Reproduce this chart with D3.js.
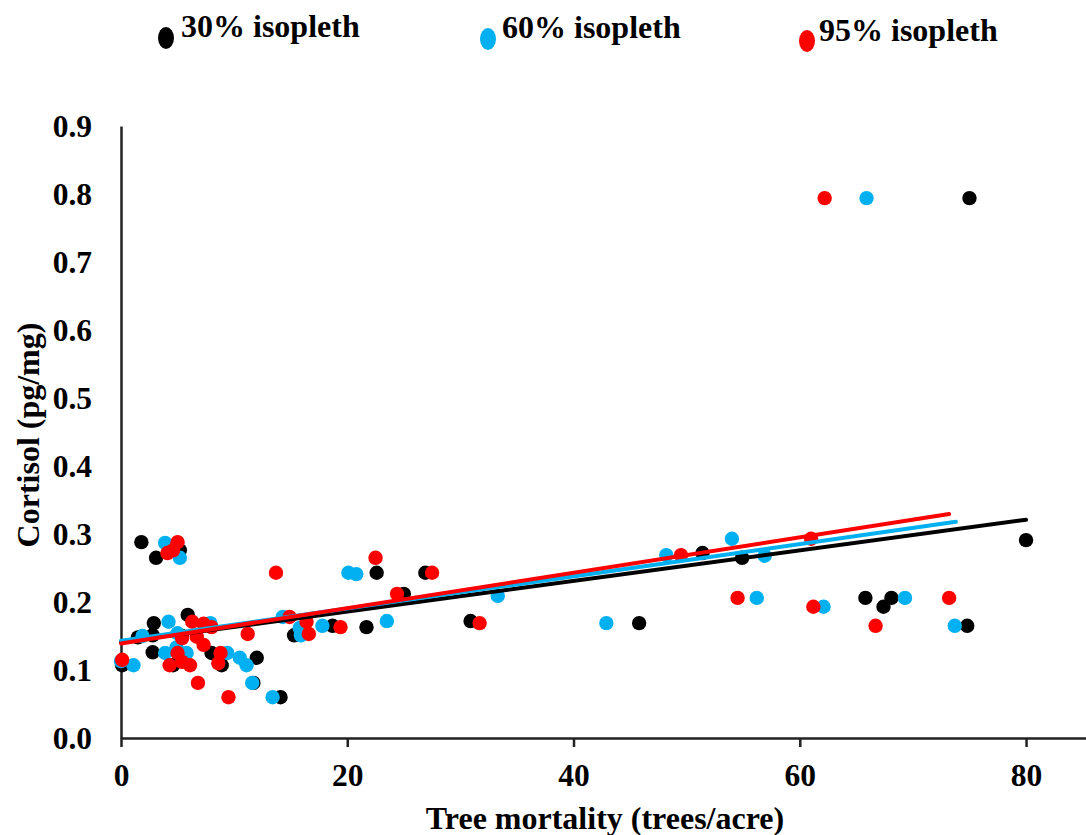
<!DOCTYPE html>
<html>
<head>
<meta charset="utf-8">
<script src="https://cdn.jsdelivr.net/npm/d3@7"></script>
<style>
  body { margin: 0; background: #fff; }
  svg text { font-family: "Liberation Serif", "Times New Roman", serif; font-weight: bold; }
</style>
</head>
<body>
<div id="chart"></div>
<script>
// series: [tree mortality, cortisol]
var iso30 = [[0.1,0.107],[1.8,0.288],[3.1,0.265],[5.2,0.276],[1.5,0.148],[2.8,0.151],[2.9,0.169],[2.8,0.126],
  [4.6,0.107],[5.9,0.181],[5.4,0.150],[8.0,0.125],[8.9,0.107],[12.0,0.118],[11.7,0.081],[14.1,0.060],
  [15.3,0.151],[18.7,0.165],[21.7,0.163],[22.6,0.243],[25.0,0.212],[26.9,0.243],[30.9,0.172],[45.8,0.169],
  [51.4,0.272],[54.9,0.265],[65.8,0.206],[67.4,0.193],[68.1,0.206],[74.8,0.165],[75.0,0.794],[80.0,0.291]];
var iso60 = [[1.1,0.107],[0.0,0.113],[1.9,0.150],[3.9,0.287],[5.2,0.265],[4.2,0.171],[3.9,0.125],[5.0,0.154],
  [5.8,0.125],[4.9,0.133],[7.9,0.169],[9.4,0.125],[10.5,0.118],[11.1,0.107],[11.6,0.081],[13.4,0.060],
  [14.3,0.178],[15.9,0.151],[15.8,0.162],[17.8,0.165],[20.1,0.243],[20.8,0.241],[23.5,0.172],[33.3,0.209],
  [42.9,0.169],[48.2,0.269],[54.0,0.293],[56.2,0.206],[56.9,0.268],[62.1,0.193],[65.9,0.794],[69.3,0.206],[73.7,0.165]];
var iso95 = [[0.1,0.115],[4.1,0.272],[4.6,0.276],[5.0,0.288],[6.3,0.171],[7.3,0.168],[8.0,0.163],[5.0,0.125],
  [5.4,0.112],[4.3,0.107],[6.1,0.107],[6.8,0.081],[8.6,0.110],[8.8,0.125],[7.3,0.137],[6.7,0.149],[5.4,0.147],
  [9.5,0.060],[11.2,0.153],[13.7,0.243],[14.9,0.178],[16.4,0.171],[16.6,0.153],[19.4,0.163],[22.5,0.265],
  [24.4,0.212],[27.5,0.243],[31.7,0.169],[49.5,0.269],[54.5,0.206],[61.0,0.293],[61.2,0.193],[62.2,0.794],
  [66.7,0.165],[73.2,0.206]];
// linear trendlines: [intercept, slope, x end]
var trend30 = [0.141, 0.00225, 80.0];
var trend60 = [0.143, 0.00237, 73.8];
var trend95 = [0.139, 0.00260, 73.2];
var seriesNames = ["30% isopleth", "60% isopleth", "95% isopleth"];
var xTicks = [0, 20, 40, 60, 80];
var yTicks = [0, 0.1, 0.2, 0.3, 0.4, 0.5, 0.6, 0.7, 0.8, 0.9];

var colors = ["#000000", "#00b0f0", "#ff0000"];
var W = 1086, H = 835;

var svg = d3.select("#chart").append("svg").attr("width", W).attr("height", H);

var x = d3.scaleLinear().domain([0, 85.3]).range([121, 1086]);
var y = d3.scaleLinear().domain([0, 0.9]).range([738, 126]);

// axes
var xAxis = svg.append("g").attr("transform", "translate(0,738)")
  .call(d3.axisBottom(x).tickValues(xTicks).tickSize(9).tickSizeOuter(0).tickPadding(17).tickFormat(d3.format("d")));
var yAxis = svg.append("g").attr("transform", "translate(121,0)")
  .call(d3.axisLeft(y).tickValues(yTicks).tickSize(0).tickPadding(29).tickFormat(d3.format(".1f")));
[xAxis, yAxis].forEach(g => {
  g.attr("font-family", null);
  g.selectAll("path, line").attr("stroke", "#222").attr("stroke-width", 2.5);
  g.selectAll("text").attr("font-size", 31.5).attr("fill", "#000");
});

// points
[iso30, iso60, iso95].forEach((data, i) => {
  svg.append("g").selectAll("circle").data(data).enter().append("circle")
    .attr("cx", d => x(d[0])).attr("cy", d => y(d[1])).attr("r", 7.2)
    .attr("fill", colors[i]);
});

// trendlines
[trend30, trend60, trend95].forEach((t, i) => {
  svg.append("line")
    .attr("x1", x(0)).attr("y1", y(t[0]))
    .attr("x2", x(t[2])).attr("y2", y(t[0] + t[1] * t[2]))
    .attr("stroke", colors[i]).attr("stroke-width", 4).attr("stroke-linecap", "round");
});

// axis titles
svg.append("text").attr("x", 605).attr("y", 829).attr("text-anchor", "middle")
  .attr("font-size", 32).text("Tree mortality (trees/acre)");
svg.append("text").attr("transform", "translate(39,435) rotate(-90)").attr("text-anchor", "middle")
  .attr("font-size", 32).text("Cortisol (pg/mg)");

// legend
var legendPos = [[166, 38, 181, 37], [488, 39, 502, 38], [807, 41, 819, 41]];
seriesNames.forEach((name, i) => {
  var p = legendPos[i];
  svg.append("ellipse").attr("cx", p[0]).attr("cy", p[1]).attr("rx", 8).attr("ry", 11).attr("fill", colors[i]);
  svg.append("text").attr("x", p[2]).attr("y", p[3]).attr("font-size", 32).text(name);
});
</script>
</body>
</html>
